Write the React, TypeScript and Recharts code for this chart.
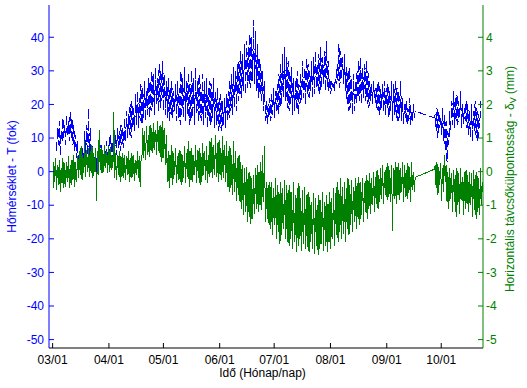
import { LineChart, Line, XAxis, YAxis } from 'recharts';

// x tick positions (days from 03/01) and labels
const tickDays = [0, 31, 61, 92, 122, 153, 184, 214];
const tickLabels = ['03/01', '04/01', '05/01', '06/01', '07/01', '08/01', '09/01', '10/01'];
const tempTicks = [-50, -40, -30, -20, -10, 0, 10, 20, 30, 40];
const dispTicks = [-5, -4, -3, -2, -1, 0, 1, 2, 3, 4];

// temperature (fok), daily low / high, first block from day 2, second from day 210
const tempStartA = 2;
const tempLowA = [
  6, 8, 5, 9, 10, 8, 11, 9, 10, 8,
  6, 4, 2, 1, 2, 3, 4, 3, 2, 3,
  1, 2, 0, 2, 3, 1, 2, 4, 3, 5,
  3, 4, 6, 5, 7, 6, 8, 7, 9, 10,
  11, 10, 13, 12, 14, 13, 15, 14, 16, 15,
  17, 16, 18, 19, 17, 20, 18, 19, 21, 18,
  17, 16, 15, 17, 16, 18, 15, 16, 14, 17,
  16, 15, 17, 14, 15, 16, 14, 17, 15, 16,
  15, 14, 16, 13, 15, 14, 16, 13, 14, 12,
  13, 12, 14, 13, 15, 16, 18, 17, 19, 18,
  21, 23, 22, 24, 23, 25, 26, 25, 27, 26,
  24, 22, 23, 21, 18, 15, 14, 16, 15, 17,
  16, 18, 17, 19, 20, 22, 21, 19, 18, 20,
  17, 18, 19, 17, 20, 21, 22, 20, 23, 22,
  24, 22, 23, 25, 24, 23, 25, 26, 24, 25,
  24, 23, 25, 24, 26, 27, 25, 28, 26, 24,
  20, 18, 19, 17, 18, 20, 22, 21, 20, 22,
  21, 20, 19, 21, 20, 22, 19, 18, 17, 19,
  18, 17, 19, 16, 18, 15, 17, 16, 15, 16,
  15, 14, 16, 14, 15, 14, 15, 16,
];
const tempHighA = [
  13, 15, 12, 16, 14, 17, 15, 18, 16, 14,
  11, 9, 6, 5, 7, 12, 14, 19, 13, 8,
  5, 7, 4, 6, 8, 6, 7, 9, 8, 11,
  9, 12, 11, 13, 12, 14, 13, 16, 18, 17,
  20, 21, 19, 23, 24, 22, 26, 25, 27, 24,
  28, 27, 30, 29, 31, 28, 32, 30, 33, 29,
  27, 28, 25, 27, 24, 26, 27, 25, 30, 28,
  31, 27, 29, 26, 30, 28, 31, 27, 29, 26,
  29, 27, 28, 25, 27, 26, 28, 24, 25, 22,
  23, 21, 22, 23, 24, 27, 29, 31, 30, 32,
  33, 36, 35, 38, 39, 37, 41, 40, 45, 42,
  38, 34, 32, 30, 27, 21, 20, 22, 23, 25,
  24, 26, 29, 32, 35, 37, 34, 33, 30, 31,
  28, 27, 30, 26, 29, 33, 31, 34, 32, 30,
  33, 34, 36, 32, 35, 37, 34, 36, 39, 33,
  28, 27, 26, 28, 32, 38, 36, 34, 35, 31,
  30, 31, 28, 29, 27, 30, 33, 34, 31, 32,
  33, 30, 27, 26, 27, 25, 26, 27, 25, 26,
  27, 25, 26, 24, 27, 26, 27, 25, 24, 27,
  22, 20, 21, 19, 22, 18, 20, 18,
];
const tempStartB = 210;
const tempLowB = [
  16, 12, 10, 13, 11, 9, 6, 3, 8, 12,
  14, 13, 15, 14, 16, 13, 14, 15, 13, 11,
  10, 9, 12, 10, 9, 13,
];
const tempHighB = [
  17, 19, 18, 16, 19, 17, 15, 12, 18, 21,
  24, 22, 23, 21, 24, 20, 19, 21, 20, 18,
  20, 18, 21, 19, 17, 21,
];

// horizontal eccentricity (mm), daily low / high
const dispStartA = 0;
const dispLowA = [
  -0.5, -0.3, -0.55, -0.4, -0.6, -0.35, -0.5, -0.45, -0.3, -0.5,
  -0.4, -0.25, -0.45, -0.3, -0.2, -0.1, -0.25, -0.05, -0.15, 0.0,
  -0.15, -0.05, -0.2, 0.0, -0.88, -0.1, 0.05, -0.05, 0.0, 0.1,
  -0.05, 0.0, 0.05, 0.1, -0.2, -0.25, -0.1, -0.3, -0.15, -0.2,
  -0.25, -0.1, -0.3, -0.2, -0.15, -0.28, -0.1, -0.2, -0.45, 0.45,
  0.4, 0.35, 0.5, 0.45, 0.6, 0.55, 0.65, 0.5, 0.6, 0.45,
  0.3, 0.4, 0.2, -0.3, -0.5, -0.2, -0.4, -0.1, -0.35, -0.25,
  -0.3, -0.4, -0.2, -0.35, -0.15, -0.45, -0.25, -0.3, -0.1, -0.35,
  -0.2, -0.4, -0.3, -0.1, -0.25, -0.35, -0.15, -0.05, -0.2, -0.1,
  -0.15, -0.3, -0.1, -0.25, -0.2, -0.3, -0.45, -0.6, -0.5, -0.7,
  -0.6, -0.88, -0.7, -0.9, -1.1, -1.3, -1.2, -1.5, -1.35, -1.56,
  -1.4, -1.27, -1.1, -1.2, -1.0, -1.15, -0.9, -1.5, -1.4, -1.6,
  -1.7, -1.9, -1.6, -2.0, -1.8, -2.15, -1.9, -1.7, -2.0, -2.1,
  -2.2, -2.0, -2.3, -2.1, -2.4, -2.2, -2.0, -2.35, -2.15, -2.3,
  -2.25, -2.4, -2.1, -2.3, -2.45, -2.2, -2.48, -2.3, -2.15, -2.35,
  -2.2, -2.4, -2.1, -2.3, -2.0, -2.2, -1.9, -2.1, -1.8, -2.0,
  -1.85, -2.1, -1.7, -1.9, -1.6, -1.8, -1.5, -1.7, -1.4, -1.6,
  -1.3, -1.5, -1.2, -1.4, -1.1, -1.27, -1.0, -1.2, -0.95, -1.1,
  -0.9, -0.8, -0.97, -0.7, -0.85, -0.75, -0.9, -1.77, -0.8, -0.95,
  -0.7, -0.85, -0.6, -0.9, -0.75, -0.8, -0.65, -0.9, -0.55, -0.6,
];
const dispHighA = [
  0.3, 0.4, 0.2, 0.35, 0.1, 0.4, 0.25, 0.3, 0.45, 0.2,
  0.35, 0.5, 0.3, 0.45, 0.6, 0.75, 0.5, 0.9, 0.65, 0.7,
  0.6, 0.8, 0.55, 0.7, 0.6, 1.25, 0.7, 0.65, 0.8, 0.6,
  0.75, 0.7, 0.5, 1.76, 0.55, 0.5, 0.6, 0.45, 0.55, 0.5,
  0.45, 0.6, 0.4, 0.55, 0.5, 0.35, 0.6, 0.45, 0.3, 1.3,
  1.2, 1.35, 1.1, 1.4, 1.3, 1.45, 1.25, 1.5, 1.35, 1.4,
  1.5, 1.3, 1.1, 0.6, 0.5, 0.8, 0.55, 0.7, 0.45, 0.65,
  0.6, 0.5, 0.75, 0.55, 0.9, 0.6, 0.7, 0.5, 0.8, 0.65,
  0.7, 0.55, 0.85, 0.6, 0.75, 0.5, 0.9, 1.0, 0.8, 1.1,
  0.85, 0.95, 0.7, 1.05, 0.8, 0.9, 0.6, 0.75, 0.5, 0.9,
  0.6, 0.4, 0.5, 0.3, 0.2, 0.1, 0.15, -0.05, 0.0, -0.2,
  -0.1, 0.1, 0.2, 0.0, 0.3, 0.5, 0.75, -0.3, -0.4, -0.3,
  -0.3, -0.5, -0.2, -0.4, -0.6, -0.3, -0.5, -0.25, -0.4, -0.55,
  -0.4, -0.6, -0.3, -0.7, -0.5, -0.35, -0.8, -0.55, -0.45, -0.7,
  -0.6, -0.75, -0.9, -0.65, -0.8, -1.0, -0.7, -0.85, -0.6, -0.9,
  -0.7, -0.95, -0.6, -0.8, -0.5, -0.65, -0.3, -0.55, -0.2, -0.45,
  -0.3, -0.5, -0.2, -0.4, -0.25, -0.45, -0.2, -0.35, -0.15, -0.3,
  -0.2, -0.35, -0.1, -0.25, -0.05, -0.2, 0.0, -0.15, 0.05, -0.1,
  0.1, 0.2, 0.0, 0.15, 0.25, 0.05, 0.2, 0.1, 0.3, 0.15,
  0.25, 0.1, 0.3, 0.2, 0.05, 0.25, 0.15, 0.3, 0.0, -0.17,
];
const dispStartB = 210;
const dispLowB = [
  0.07, -0.5, -0.7, -0.4, -0.88, -0.6, -0.3, -0.9, -1.1, -0.8,
  -1.2, -0.9, -1.35, -1.0, -1.25, -0.85, -1.3, -1.1, -0.95, -1.2,
  -1.0, -1.35, -1.15, -1.4, -1.2, -1.3, -1.0,
];
const dispHighB = [
  0.2, 0.3, 0.15, 0.25, 0.1, 0.5, 0.2, 0.0, 0.1, -0.05,
  0.05, -0.1, 0.1, -0.05, 0.12, -0.15, 0.0, 0.05, -0.1, 0.0,
  -0.05, 0.05, -0.1, 0.0, -0.2, 0.1, -0.3,
];

function daily(start: number, lows: number[], highs: number[]) {
  const out: { x: number; v: number }[] = [];
  const n = Math.min(lows.length, highs.length);
  for (let i = 0; i < n; i++) {
    out.push({ x: start + i + 0.2, v: lows[i] });
    out.push({ x: start + i + 0.65, v: highs[i] });
  }
  return out;
}

const tempData = [...daily(tempStartA, tempLowA, tempHighA), ...daily(tempStartB, tempLowB, tempHighB)];
const dispData = [...daily(dispStartA, dispLowA, dispHighA), ...daily(dispStartB, dispLowB, dispHighB)];

const BLUE = '#0000FF';
const GREEN = '#008000';
const FONT = '"Liberation Sans", Arial, sans-serif';

export default function App() {
  return (
    <div style={{ position: 'absolute', left: 0, top: 0, width: 527, height: 388, background: '#fff', fontFamily: FONT }}>
      <LineChart width={527} height={388} margin={{ top: 5, right: 0, bottom: 0, left: 0 }}>
        <XAxis
          xAxisId="b"
          dataKey="x"
          type="number"
          domain={[-2, 237]}
          allowDataOverflow
          ticks={tickDays}
          interval={0}
          tickFormatter={(v) => tickLabels[tickDays.indexOf(v)] ?? ''}
          height={40}
          tickSize={-5}
          tickMargin={12}
          axisLine={{ stroke: '#000' }}
          tickLine={{ stroke: '#000' }}
          tick={{ fill: '#000', fontSize: 12, fontFamily: FONT }}
        />
        <XAxis
          xAxisId="t"
          orientation="top"
          dataKey="x"
          type="number"
          domain={[-2, 237]}
          allowDataOverflow
          ticks={tickDays}
          interval={0}
          height={0}
          tickSize={-5}
          tick={false}
          axisLine={{ stroke: '#000' }}
          tickLine={{ stroke: '#000' }}
        />
        <YAxis
          yAxisId="T"
          orientation="left"
          type="number"
          domain={[-52.5, 49.6]}
          allowDataOverflow
          ticks={tempTicks}
          interval={0}
          width={49}
          tickSize={-5}
          tickMargin={10}
          axisLine={{ stroke: BLUE }}
          tickLine={{ stroke: BLUE }}
          tick={{ fill: BLUE, fontSize: 12, fontFamily: FONT }}
        />
        <YAxis
          yAxisId="D"
          orientation="right"
          type="number"
          domain={[-5.25, 4.96]}
          allowDataOverflow
          ticks={dispTicks}
          interval={0}
          width={44}
          tickSize={-5}
          tickMargin={8}
          axisLine={{ stroke: GREEN }}
          tickLine={{ stroke: GREEN }}
          tick={{ fill: GREEN, fontSize: 12, fontFamily: FONT, textAnchor: 'start' }}
        />
        <Line
          data={tempData}
          xAxisId="b"
          yAxisId="T"
          dataKey="v"
          type="linear"
          stroke={BLUE}
          strokeWidth={1}
          strokeDasharray="9 3"
          shapeRendering="crispEdges"
          dot={false}
          activeDot={false}
          isAnimationActive={false}
        />
        <Line
          data={dispData}
          xAxisId="b"
          yAxisId="D"
          dataKey="v"
          type="linear"
          stroke={GREEN}
          strokeWidth={1}
          shapeRendering="crispEdges"
          dot={false}
          activeDot={false}
          isAnimationActive={false}
        />
      </LineChart>
      <svg width={527} height={388} style={{ position: 'absolute', left: 0, top: 0, pointerEvents: 'none' }}>
        <text x={12} y={176.5} fill={BLUE} fontSize={12} fontFamily={FONT} textAnchor="middle" dominantBaseline="central" transform="rotate(-90 12 176.5)">
          Hőmérséklet - T (fok)
        </text>
        <text x={510} y={179} fill={GREEN} fontSize={12} fontFamily={FONT} textAnchor="middle" dominantBaseline="central" transform="rotate(-90 510 179)">
          Horizontális távcsőkülpontosság - δ<tspan fontSize={9} dy={3}>V</tspan><tspan dy={-3}> (mm)</tspan>
        </text>
        <text x={262.5} y={377} fill="#000" fontSize={12} fontFamily={FONT} textAnchor="middle">
          Idő (Hónap/nap)
        </text>
      </svg>
    </div>
  );
}
